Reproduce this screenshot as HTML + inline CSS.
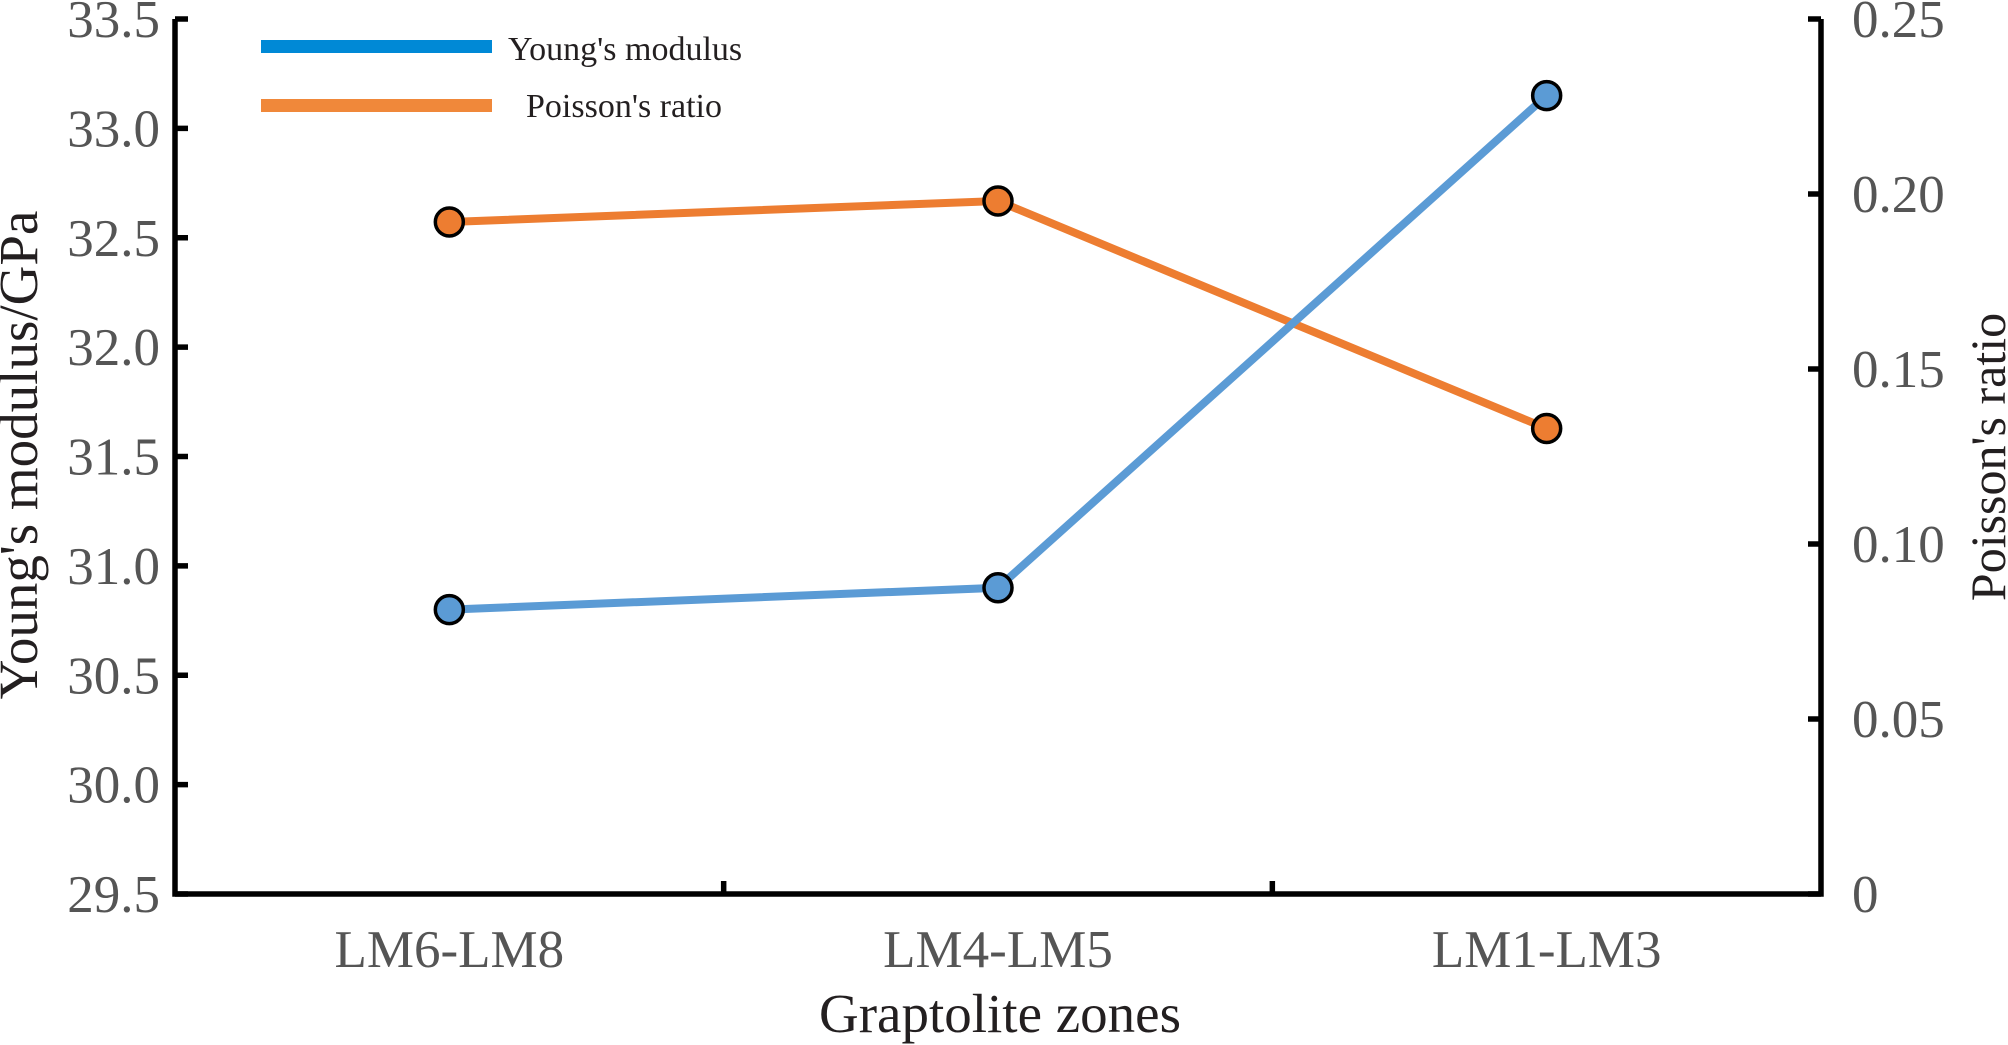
<!DOCTYPE html>
<html><head><meta charset="utf-8"><style>
html,body{margin:0;padding:0;background:#fff;}
svg{display:block;}
</style></head><body>
<svg id="chart" width="2008" height="1045" viewBox="0 0 2008 1045" xmlns="http://www.w3.org/2000/svg">
<g id="axes"></g>
<g id="series"></g>
<g id="legend">
  <rect x="261" y="40" width="231" height="13" fill="#0089d6"/>
  <text x="508" y="60" font-family="Liberation Serif, serif" font-size="34" fill="#231f20">Young's modulus</text>
  <rect x="261" y="99" width="231" height="13" fill="#f0883a"/>
  <text x="526" y="117" font-family="Liberation Serif, serif" font-size="34" fill="#231f20">Poisson's ratio</text>
</g>
</svg>
<script>
const categories = ["LM6-LM8", "LM4-LM5", "LM1-LM3"];
const youngs = [30.8, 30.9, 33.15];
const poisson = [0.192, 0.198, 0.133];
const leftTicks = ["29.5","30.0","30.5","31.0","31.5","32.0","32.5","33.0","33.5"];
const leftTickValues = [29.5,30.0,30.5,31.0,31.5,32.0,32.5,33.0,33.5];
const rightTicks = ["0","0.05","0.10","0.15","0.20","0.25"];
const rightTickValues = [0,0.05,0.10,0.15,0.20,0.25];

const NS = "http://www.w3.org/2000/svg";
const X0 = 175, X1 = 1821, Y0 = 894, Y1 = 19;
const yL = v => Y0 - (v - 29.5) / (33.5 - 29.5) * (Y0 - Y1);
const yR = v => Y0 - (v - 0) / 0.25 * (Y0 - Y1);
const band = (X1 - X0) / categories.length;
const xC = i => X0 + band * (i + 0.5);

function mk(tag, attrs, parent) {
  const e = document.createElementNS(NS, tag);
  for (const k in attrs) e.setAttribute(k, attrs[k]);
  parent.appendChild(e);
  return e;
}
const axes = document.getElementById('axes');
const series = document.getElementById('series');
const serif = "Liberation Serif, serif";

let a = mk('polyline', {points: `${X0},${Y1} ${X0},${Y0} ${X1},${Y0} ${X1},${Y1}`, fill: 'none', stroke: '#000', 'stroke-width': 5.5}, axes);



leftTickValues.forEach((v, i) => {
  const y = yL(v);
  const t = mk('line', {x1: X0, x2: X0 + 13, y1: y, y2: y, stroke: '#000', 'stroke-width': 5.5}, axes);
  
  
  const l = mk('text', {x: 160, y: y + 18, 'text-anchor': 'end', 'font-family': serif, 'font-size': 53, fill: '#555'}, axes);
  l.textContent = leftTicks[i];
  
  
});
rightTickValues.forEach((v, i) => {
  const y = yR(v);
  const t = mk('line', {x1: X1 - 13, x2: X1, y1: y, y2: y, stroke: '#000', 'stroke-width': 5.5}, axes);
  
  
  const l = mk('text', {x: 1852, y: y + 18, 'text-anchor': 'start', 'font-family': serif, 'font-size': 53, fill: '#555'}, axes);
  l.textContent = rightTicks[i];
  
  
});
for (let i = 1; i < categories.length; i++) {
  const x = X0 + band * i;
  const t = mk('line', {x1: x, x2: x, y1: Y0, y2: Y0 - 13, stroke: '#000', 'stroke-width': 5.5}, axes);
  
  
}
categories.forEach((c, i) => {
  const l = mk('text', {x: xC(i), y: 967, 'text-anchor': 'middle', 'font-family': serif, 'font-size': 53, fill: '#555'}, axes);
  l.textContent = c;
  
  
});
let tt = mk('text', {x: 1000, y: 1032, 'text-anchor': 'middle', 'font-family': serif, 'font-size': 55, fill: '#231f20'}, axes);
tt.textContent = "Graptolite zones";


tt = mk('text', {x: 0, y: 0, 'text-anchor': 'middle', 'font-family': serif, 'font-size': 55, fill: '#231f20', transform: 'translate(37,455) rotate(-90)'}, axes);
tt.textContent = "Young's modulus/GPa";


tt = mk('text', {x: 0, y: 0, 'text-anchor': 'middle', 'font-family': serif, 'font-size': 50, fill: '#231f20', transform: 'translate(2005,457) rotate(-90)'}, axes);
tt.textContent = "Poisson's ratio";



function drawSeries(vals, yf, color, name) {
  const pl = mk('polyline', {points: vals.map((v, i) => `${xC(i)},${yf(v)}`).join(' '), fill: 'none', stroke: color, 'stroke-width': 8}, series);
  
  
  vals.forEach((v, i) => {
    const c = mk('circle', {cx: xC(i), cy: yf(v), r: 14, fill: color, stroke: '#000', 'stroke-width': 3.5}, series);
    
    
  });
}
drawSeries(poisson, yR, '#ed7d31', 'poisson');
drawSeries(youngs, yL, '#5b9bd5', 'youngs');
</script>
</body></html>
